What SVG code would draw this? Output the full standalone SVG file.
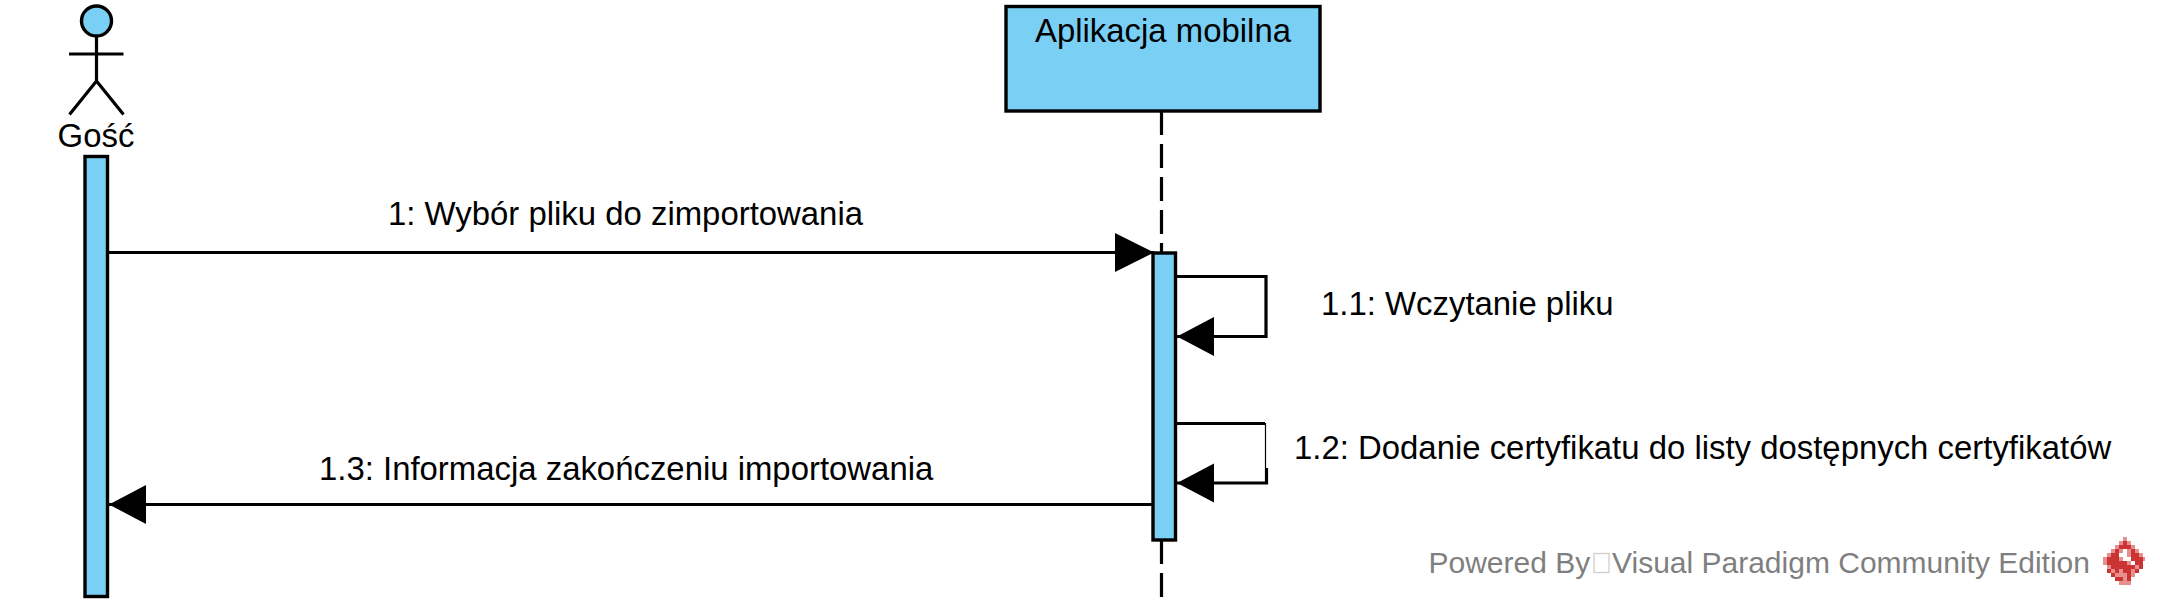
<svg xmlns="http://www.w3.org/2000/svg" width="2160" height="612" viewBox="0 0 2160 612">
<style>
text{font-family:"Liberation Sans",Arial,sans-serif;font-size:32.900px;fill:#000}
.f{fill:#7acff5;stroke:#000;stroke-width:3.400}
.l{fill:none;stroke:#000;stroke-width:3.200}
.p{font-size:30px;fill:#7f7f7f}
</style>
<defs>
<marker id="arrow" markerUnits="userSpaceOnUse" markerWidth="40" markerHeight="40" refX="39" refY="20" orient="auto">
<path d="M0 .5L39 20L0 39.5Z" fill="#000"/>
</marker>
<marker id="arrow-short" markerUnits="userSpaceOnUse" markerWidth="40" markerHeight="40" refX="37" refY="20" orient="auto">
<path d="M0 .5L37 20L0 39.500Z" fill="#000"/>
</marker>
</defs>
<rect width="2160" height="612" fill="#fff"/>
<g id="actor-gosc">
<circle class="f" cx="96.500" cy="21" r="15"/>
<path class="l" d="M96.500 36V81M69 54H123.500M69.500 114.500L96.500 81L123.500 114.500"/>
<text x="96" y="147" text-anchor="middle">Gość</text>
<rect class="f" x="85" y="156.500" width="22.500" height="440"/>
</g>
<g id="lifeline-aplikacja">
<path class="l" d="M1161.500 111V597" stroke-dasharray="24 9"/>
<rect class="f" x="1006" y="6.500" width="314" height="104.500"/>
<text x="1163" y="42" text-anchor="middle">Aplikacja mobilna</text>
<rect class="f" x="1153" y="253" width="22.500" height="287"/>
</g>
<g id="connectors">
<path class="l" d="M109 252.500H1154" marker-end="url(#arrow)"/>
<path class="l" d="M1177 276.500H1266V336.500H1177" marker-end="url(#arrow-short)"/>
<path class="l" d="M1177 423.500H1265"/>
<path d="M1265.500 423V468" fill="none" stroke="#000" stroke-width="1.200"/>
<path class="l" d="M1266.500 468V483H1177" marker-end="url(#arrow-short)"/>
<path class="l" d="M1152 504.500H109" marker-end="url(#arrow-short)"/>
</g>
<g id="labels">
<text x="388" y="225">1: Wybór pliku do zimportowania</text>
<text x="1321" y="315">1.1: Wczytanie pliku</text>
<text x="1294" y="459">1.2: Dodanie certyfikatu do listy dostępnych certyfikatów</text>
<text x="319" y="480">1.3: Informacja zakończeniu importowania</text>
</g>
<g id="watermark">
<text class="p" x="1428.500" y="573">Powered By</text>
<rect x="1594" y="553.500" width="15" height="19" fill="none" stroke="#cfcfcf" stroke-width="1.300"/>
<text class="p" x="1612" y="573">Visual Paradigm Community Edition</text>
<path fill="#cc3333" d="M2123 541h4v4h-4zM2119 545h12v4h-12zM2115 549h4v4h-4zM2131 549h4v4h-4zM2111 553h8v4h-8zM2131 553h8v4h-8zM2107 557h12v4h-12zM2131 557h12v4h-12zM2107 561h20v4h-20zM2135 561h8v4h-8zM2111 565h24v4h-24zM2139 565h4v4h-4zM2107 569h4v4h-4zM2115 569h4v4h-4zM2123 569h8v4h-8zM2135 569h4v4h-4zM2111 573h4v4h-4zM2127 573h4v4h-4zM2115 577h8v4h-8zM2127 577h4v4h-4z"/>
<path fill="#e58f8f" d="M2123 537h4v4h-4zM2119 541h4v4h-4zM2127 541h4v4h-4zM2115 545h4v4h-4zM2131 545h4v4h-4zM2111 549h4v4h-4zM2135 549h4v4h-4zM2119 549h4v4h-4zM2127 549h4v4h-4zM2107 553h4v4h-4zM2139 553h4v4h-4zM2127 553h4v4h-4zM2103 557h4v4h-4zM2119 557h4v4h-4zM2143 557h2v4h-2zM2103 561h4v4h-4zM2127 561h4v4h-4zM2107 565h4v4h-4zM2135 565h4v4h-4zM2111 569h4v4h-4zM2119 569h4v4h-4zM2131 569h4v4h-4zM2115 573h12v4h-12zM2131 573h4v4h-4zM2123 577h4v4h-4zM2119 581h12v4h-12z"/>
</g>
</svg>
